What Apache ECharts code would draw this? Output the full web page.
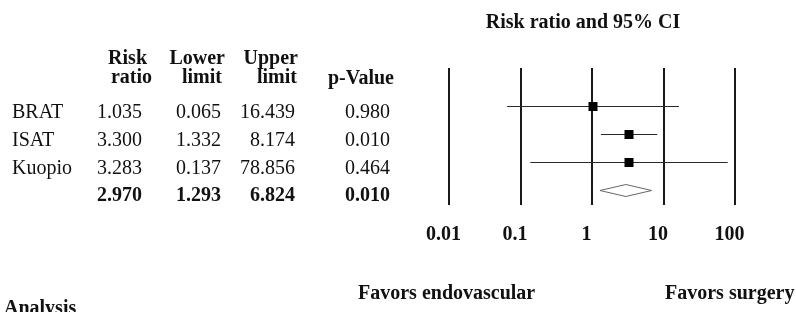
<!DOCTYPE html>
<html>
<head>
<meta charset="utf-8">
<script src="https://cdn.jsdelivr.net/npm/echarts@6/dist/echarts.min.js"></script>
<style>
  html, body { margin: 0; padding: 0; background: #fff; }
  #chart { width: 796px; height: 312px; }
</style>
</head>
<body>
<div id="chart"></div>
<script>
// 研究数据
const studies = ['BRAT', 'ISAT', 'Kuopio'];
const riskRatio = [1.035, 3.300, 3.283];
const lowerLimit = [0.065, 1.332, 0.137];
const upperLimit = [16.439, 8.174, 78.856];
const pValue = [0.980, 0.010, 0.464];
// 合并结果: ratio, lower, upper, p
const pooled = [2.970, 1.293, 6.824, 0.010];

const FONT = '"Liberation Serif", "Times New Roman", serif';
const INK = '#111';

function txt(x, y, text, bold, align) {
  return {
    type: 'text', x: x, y: y, silent: true,
    style: {
      text: text,
      font: (bold ? 'bold ' : '') + '20px ' + FONT,
      fill: INK,
      align: align || 'left',
      verticalAlign: 'middle'
    }
  };
}

// 左侧表格
const graphics = [
  txt(583, 23, 'Risk ratio and 95% CI', true, 'center'),
  txt(147, 59, 'Risk', true, 'right'),
  txt(152, 78, 'ratio', true, 'right'),
  txt(225, 59, 'Lower', true, 'right'),
  txt(222, 78, 'limit', true, 'right'),
  txt(298, 59, 'Upper', true, 'right'),
  txt(297, 78, 'limit', true, 'right'),
  txt(328, 79, 'p-Value', true, 'left'),
  txt(358, 294, 'Favors endovascular', true, 'left'),
  txt(665, 294, 'Favors surgery', true, 'left'),
  txt(4, 309, 'Analysis', true, 'left')
];
const rowY = [113, 140.5, 168.5];
studies.forEach(function (name, i) {
  graphics.push(txt(12, rowY[i], name, false, 'left'));
  graphics.push(txt(142, rowY[i], riskRatio[i].toFixed(3), false, 'right'));
  graphics.push(txt(221, rowY[i], lowerLimit[i].toFixed(3), false, 'right'));
  graphics.push(txt(295, rowY[i], upperLimit[i].toFixed(3), false, 'right'));
  graphics.push(txt(390, rowY[i], pValue[i].toFixed(3), false, 'right'));
});
graphics.push(txt(142, 195.5, pooled[0].toFixed(3), true, 'right'));
graphics.push(txt(221, 195.5, pooled[1].toFixed(3), true, 'right'));
graphics.push(txt(295, 195.5, pooled[2].toFixed(3), true, 'right'));
graphics.push(txt(390, 195.5, pooled[3].toFixed(3), true, 'right'));

// [est, lower, upper, row]
const studyData = studies.map(function (s, i) {
  return [riskRatio[i], lowerLimit[i], upperLimit[i], i + 1];
});
const pooledData = [[pooled[0], pooled[1], pooled[2], 4]];

const myEcharts = echarts.init(document.getElementById('chart'), null, { renderer: 'canvas' });
myEcharts.setOption({
  animation: false,
  backgroundColor: '#fff',
  graphic: graphics,
  grid: { left: 449, right: 61, top: 68, bottom: 107 },
  xAxis: {
    type: 'log',
    logBase: 10,
    min: 0.01,
    max: 100,
    axisLine: { show: false },
    axisTick: { show: false },
    splitLine: { show: true, lineStyle: { color: '#1a1a1a', width: 2 } },
    axisLabel: {
      margin: 20,
      fontFamily: FONT,
      fontSize: 20,
      fontWeight: 'bold',
      color: INK,
      padding: [0, 11, 0, 0]
    }
  },
  yAxis: { type: 'value', inverse: true, min: -0.4, max: 4.5, show: false },
  series: [
    {
      type: 'custom',
      data: studyData,
      encode: { x: [0, 1, 2], y: 3 },
      renderItem: function (params, api) {
        const row = api.value(3);
        const c = api.coord([api.value(0), row]);
        const l = api.coord([api.value(1), row]);
        const h = api.coord([api.value(2), row]);
        const y = Math.round(c[1]) - 0.5;
        return {
          type: 'group',
          children: [
            { type: 'line', shape: { x1: l[0], y1: y, x2: h[0], y2: y },
              style: { stroke: '#2a2a2a', lineWidth: 1.2 } },
            { type: 'rect', shape: { x: Math.round(c[0]) - 4.5, y: y - 4.5, width: 9, height: 9 },
              style: { fill: '#000' } }
          ]
        };
      }
    },
    {
      type: 'custom',
      data: pooledData,
      encode: { x: [0, 1, 2], y: 3 },
      renderItem: function (params, api) {
        const row = api.value(3);
        const c = api.coord([api.value(0), row]);
        const l = api.coord([api.value(1), row]);
        const h = api.coord([api.value(2), row]);
        const y = Math.round(c[1]) - 0.5;
        return {
          type: 'polygon',
          shape: { points: [[l[0], y], [c[0], y - 6], [h[0], y], [c[0], y + 6]] },
          style: { fill: '#fff', stroke: '#666', lineWidth: 1 }
        };
      }
    }
  ]
});
window.addEventListener('resize', function () {
  myEcharts.resize();
});
</script>
</body>
</html>
